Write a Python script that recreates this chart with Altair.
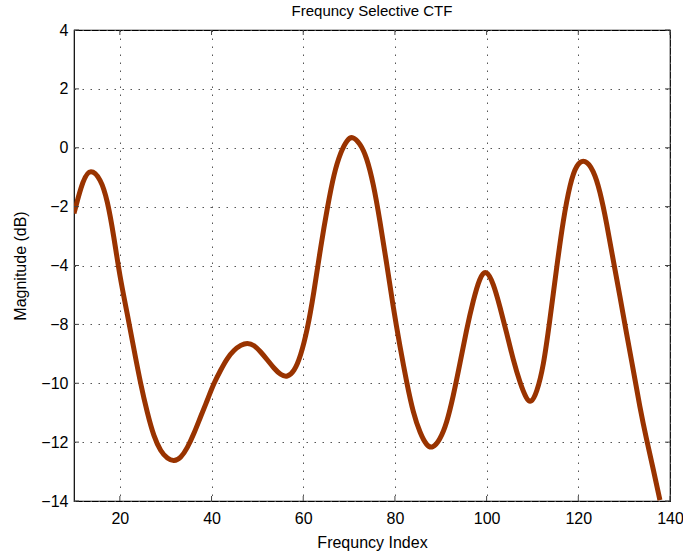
import altair as alt
import pandas as pd

# Curve (y in the plot's linear frame; tick labels relabelled below)
freq_index = [10.0, 12.0, 13.6, 15.8, 17.3, 18.7, 20.0, 21.6, 23.1, 24.5, 26.0, 27.4, 28.9,
              30.4, 31.8, 33.3, 34.7, 36.2, 37.6, 39.1, 40.5, 42.0, 43.4, 44.9, 46.4,
              47.8, 49.3, 50.7, 52.2, 53.6, 55.1, 56.5, 58.0, 59.4, 60.9, 62.3, 63.8,
              65.3, 66.7, 68.2, 69.6, 70.75, 72.4, 73.8, 75.3, 76.7, 78.2, 79.6, 81.1,
              82.6, 84.0, 85.5, 86.9, 88.2, 89.8, 91.3, 92.7, 94.2, 95.6, 97.1, 98.5,
              99.9, 101.5, 102.9, 104.4, 105.8, 107.3, 108.7, 109.7, 110.9, 112.4,
              113.8, 115.3, 116.7, 118.2, 119.6, 121.5, 123.3, 124.7, 126.2, 127.6,
              129.1, 130.5, 132.0, 133.4, 134.9, 136.4, 137.8]
magnitude = [-2.23, -1.05, -0.70, -1.04, -1.78, -3.02, -4.38, -5.62, -6.87, -8.00, -9.02,
             -9.81, -10.32, -10.57, -10.66, -10.54, -10.21, -9.70, -9.14, -8.57, -8.00,
             -7.55, -7.15, -6.87, -6.70, -6.62, -6.70, -6.93, -7.21, -7.49, -7.72, -7.80,
             -7.61, -7.10, -6.19, -4.95, -3.36, -2.00, -0.87, -0.13, 0.28, 0.40, 0.15,
             -0.30, -1.21, -2.45, -3.93, -5.40, -6.76, -8.00, -9.02, -9.70, -10.12,
             -10.22, -9.93, -9.36, -8.46, -7.32, -6.19, -5.17, -4.40, -4.12, -4.61,
             -5.40, -6.30, -7.21, -8.00, -8.55, -8.68, -8.34, -7.44, -5.85, -4.04,
             -2.45, -1.21, -0.55, -0.38, -0.76, -1.44, -2.57, -3.81, -5.06, -6.30,
             -7.55, -8.80, -9.93, -10.95, -11.97]

x_ticks = [20, 40, 60, 80, 100, 120, 140]
y_ticks = [4, 2, 0, -2, -4, -6, -8, -10, -12]

df = pd.DataFrame({"x": freq_index, "y": magnitude})
xt = pd.DataFrame({"x": x_ticks})
yt = pd.DataFrame({"y": y_ticks})

W, H = 596, 471
xscale = alt.Scale(domain=[10, 140], nice=False, zero=False)
yscale = alt.Scale(domain=[-12, 4], nice=False, zero=False)

FONT = "Liberation Sans"

line = alt.Chart(df).mark_line(
    color="#993300", strokeWidth=5, interpolate="basis", clip=True
).encode(
    x=alt.X("x:Q", scale=xscale, axis=alt.Axis(
        values=x_ticks, title="Frequncy Index", grid=True, ticks=False,
        labelPadding=9, titlePadding=8, labelFlush=False)),
    y=alt.Y("y:Q", scale=yscale, axis=alt.Axis(
        values=y_ticks, title="Magnitude (dB)", grid=True, ticks=False,
        labelPadding=6, titlePadding=12,
        labelExpr="datum.value <= -6 ? format(datum.value - 2, 'd') : format(datum.value, 'd')")),
)

tick_x_bottom = alt.Chart(xt).mark_rule(color="#444", strokeWidth=1).encode(
    x=alt.X("x:Q", scale=xscale), y=alt.value(H), y2=alt.value(H - 5))
tick_x_top = alt.Chart(xt).mark_rule(color="#444", strokeWidth=1).encode(
    x=alt.X("x:Q", scale=xscale), y=alt.value(0), y2=alt.value(5))
tick_y_left = alt.Chart(yt).mark_rule(color="#444", strokeWidth=1).encode(
    y=alt.Y("y:Q", scale=yscale), x=alt.value(0), x2=alt.value(5))
tick_y_right = alt.Chart(yt).mark_rule(color="#444", strokeWidth=1).encode(
    y=alt.Y("y:Q", scale=yscale), x=alt.value(W), x2=alt.value(W - 5))

chart = alt.layer(line, tick_x_bottom, tick_x_top, tick_y_left, tick_y_right).properties(
    width=W, height=H,
    title=alt.TitleParams("Frequncy Selective CTF", fontSize=15, font=FONT,
                          fontWeight="normal", color="black", offset=3),
    autosize=alt.AutoSizeParams(type="none"),
    padding={"left": 74, "top": 30, "right": 13, "bottom": 55},
).configure_view(
    stroke="black", strokeWidth=1.2
).configure_axis(
    domain=False, labelFont=FONT, titleFont=FONT, labelFontSize=16, titleFontSize=16,
    titleFontWeight="normal", labelColor="black", titleColor="black",
    gridColor="#555", gridDash=[1.5, 6.5], gridWidth=1, gridOpacity=1,
)

chart.save("out.html", embed_options={"renderer": "svg", "actions": False})
